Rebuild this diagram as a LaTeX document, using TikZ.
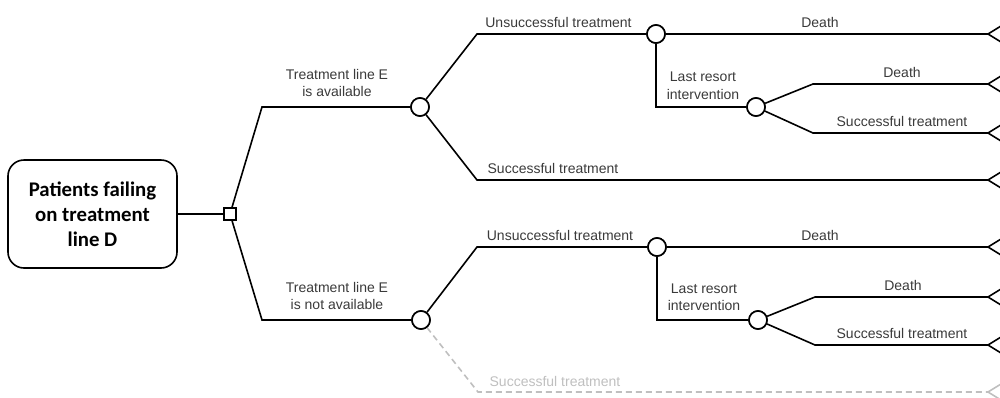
\documentclass[tikz,border=0pt]{standalone}
\usepackage{fontspec}
\setmainfont{Liberation Sans}
\newfontfamily\rootfont{Carlito}
\definecolor{labelgray}{HTML}{3A3A3A}
\definecolor{dashgray}{HTML}{BFBFBF}
\begin{document}
\begin{tikzpicture}[x=1pt,y=-1pt,
  branch/.style={line width=1.6pt, line join=miter},
  faded/.style={line width=1.6pt, color=dashgray, dash pattern=on 6pt off 4pt},
  chance/.style={circle, draw, fill=white, line width=1.6pt, minimum size=18pt, inner sep=0pt},
  decision/.style={rectangle, draw, fill=white, line width=1.5pt, minimum size=12pt, inner sep=0pt},
  rootbox/.style={rectangle, draw, rounded corners=16pt, line width=1.6pt, minimum width=169pt, minimum height=108pt, align=center, font=\rootfont\bfseries\fontsize{20.8}{25}\selectfont},
  lbl/.style={font=\fontsize{14}{18}\selectfont, text=labelgray, inner sep=0pt, anchor=base},
  lbl2/.style={font=\fontsize{14}{17.5}\selectfont, text=labelgray, inner sep=0pt, align=center},
  termarm/.style={line width=1.6pt}
]
\useasboundingbox (0,0) rectangle (1000,397);

% nodes
\node[rootbox] (root) at (92.5,214) {Patients failing\\on treatment\\line D};
\node[decision] (dec) at (230,214) {};
\coordinate (k1) at (262,107);
\coordinate (k2) at (262,320);
\node[chance] (c1) at (420,107) {};
\node[chance] (c2) at (421,320) {};
\coordinate (k1u) at (477,34);
\coordinate (k1d) at (477,180);
\coordinate (k2u) at (477,247);
\coordinate (k2d) at (478,392);
\node[chance] (c1a) at (656,34) {};
\node[chance] (c2a) at (657,247) {};
\node[chance] (c1b) at (756,107) {};
\node[chance] (c2b) at (758,320) {};
\coordinate (f1u) at (813,84);
\coordinate (f1d) at (813,133);
\coordinate (f2u) at (815,297);
\coordinate (f2d) at (815,345);
\coordinate (t1) at (988,34);
\coordinate (t2) at (988,84);
\coordinate (t3) at (988,133);
\coordinate (t4) at (988,180);
\coordinate (t5) at (988,247);
\coordinate (t6) at (988,297);
\coordinate (t7) at (988,345);
\coordinate (t8) at (988,392);

% connectors
\draw[branch] (root) -- (dec);
\draw[branch] (dec) -- (k1) -- (c1);
\draw[branch] (dec) -- (k2) -- (c2);
\draw[branch] (c1) -- (k1u) -- (c1a);
\draw[branch] (c1) -- (k1d) -- (t4);
\draw[branch] (c1a) -- (t1);
\draw[branch] (c1a) -- (c1a |- c1b) -- (c1b);
\draw[branch] (c1b) -- (f1u) -- (t2);
\draw[branch] (c1b) -- (f1d) -- (t3);
\draw[branch] (c2) -- (k2u) -- (c2a);
\draw[branch] (c2a) -- (t5);
\draw[branch] (c2a) -- (c2a |- c2b) -- (c2b);
\draw[branch] (c2b) -- (f2u) -- (t6);
\draw[branch] (c2b) -- (f2d) -- (t7);
\draw[faded] (c2) -- (k2d) -- (t8);

% terminal markers
\foreach \t in {t1,t2,t3,t4,t5,t6,t7}
  \draw[termarm] (\t) ++(13,-8) -- (\t) -- ++(13,8);
\draw[termarm, color=dashgray] (t8) ++(13,-8) -- (t8) -- ++(13,8);

% redraw nodes on top
\node[decision] at (dec) {};
\foreach \c in {c1,c2,c1a,c2a,c1b,c2b}
  \node[chance] at (\c) {};

% labels
\node[lbl2] (lE1) at (337,83) {Treatment line E\\is available};
\node[lbl2] (lE2) at (337,296) {Treatment line E\\is not available};
\node[lbl] (u1) at (558.5,27) {Unsuccessful treatment};
\node[lbl] (s1) at (553,173.5) {Successful treatment};
\node[lbl] (d1) at (820,27) {Death};
\node[lbl2] (lr1) at (703,85.5) {Last resort\\intervention};
\node[lbl] (d2) at (902,77) {Death};
\node[lbl] (s2) at (902,126.5) {Successful treatment};
\node[lbl] (u2) at (560,240) {Unsuccessful treatment};
\node[lbl] (d3) at (820,240) {Death};
\node[lbl2] (lr2) at (704,297) {Last resort\\intervention};
\node[lbl] (d4) at (903,290) {Death};
\node[lbl] (s3) at (902,338.5) {Successful treatment};
\node[lbl, text=dashgray] (s4) at (555,386) {Successful treatment};
\end{tikzpicture}
\end{document}
